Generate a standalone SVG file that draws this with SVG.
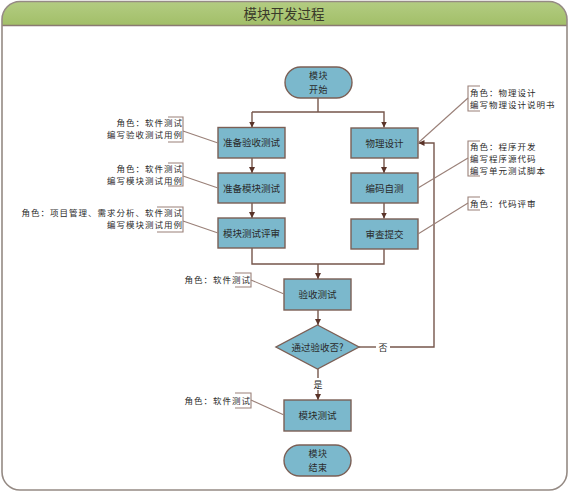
<svg xmlns="http://www.w3.org/2000/svg" width="569" height="492" viewBox="0 0 569 492">
<defs>
<linearGradient id="tg" x1="0" y1="0" x2="0" y2="1">
<stop offset="0" stop-color="#b3cc82"/>
<stop offset="1" stop-color="#a2bf68"/>
</linearGradient>
<marker id="ah" viewBox="0 0 10 10" refX="10" refY="5" markerWidth="6" markerHeight="6" orient="auto" markerUnits="userSpaceOnUse">
<path d="M0,0 L10,5 L0,10 z" fill="#5a3328"/>
</marker>
<clipPath id="fc"><rect x="2" y="1.5" width="565" height="488.5" rx="18"/></clipPath>
</defs>
<style>
text{font-family:"Noto Sans CJK SC","Liberation Sans",sans-serif;fill:#2a2a2a}
.box{fill:#7bb8cc;stroke:#7b5f55;stroke-width:1.4}
.lbl{font-size:9.5px;text-anchor:middle}
.pl{font-size:9px;text-anchor:middle;letter-spacing:0.5px}
.ann{font-size:8.5px;letter-spacing:1px}
.end{text-anchor:end}
.conn{fill:none;stroke:#76564b;stroke-width:1.4}
.arr{marker-end:url(#ah)}
.br{fill:none;stroke:#9a8078;stroke-width:1.1}
</style>
<rect x="0" y="0" width="569" height="492" fill="#ffffff"/>
<g id="frame">
<rect x="2" y="1.5" width="565" height="24" fill="url(#tg)" clip-path="url(#fc)"/>
<line x1="2" y1="25.5" x2="567" y2="25.5" stroke="#8a7a72" stroke-width="1.4"/>
<rect x="2" y="1.5" width="565" height="488.5" rx="18" fill="none" stroke="#958a84" stroke-width="1.6"/>
<text x="284" y="18.5" style="font-size:13.5px;text-anchor:middle;fill:#3a3a2a">模块开发过程</text>
</g>
<g id="connectors">
<path class="conn" d="M318,98 V112"/>
<path class="conn arr" d="M252,112 H384 V127.5"/>
<path class="conn arr" d="M252,112 V127.5"/>
<path class="conn arr" d="M252,158 V173"/>
<path class="conn arr" d="M252,203 V218"/>
<path class="conn arr" d="M384,158 V173"/>
<path class="conn arr" d="M384,203 V218.5"/>
<path class="conn" d="M252,248 V264 H384 V249"/>
<path class="conn arr" d="M318,264 V279"/>
<path class="conn arr" d="M318,310 V325"/>
<path class="conn" d="M318,369 V378"/>
<path class="conn arr" d="M318,390 V400"/>
<path class="conn" d="M359,347 H376"/>
<path class="conn arr" d="M390,347 H434 V143 H418.5"/>
<text x="383" y="351" style="font-size:9px;text-anchor:middle">否</text>
<text x="318" y="387.5" style="font-size:9px;text-anchor:middle">是</text>
</g>
<g id="start">
<rect class="box" x="285" y="67" width="67" height="31" rx="15.5"/>
<text class="pl" x="318.5" y="79.4">模块<tspan x="318.5" dy="13.5">开始</tspan></text>
</g>
<g id="n_accept_prep">
<rect class="box" x="218" y="127.5" width="67" height="30.5"/>
<text class="lbl" x="251.5" y="146">准备验收测试</text>
</g>
<g id="n_module_prep">
<rect class="box" x="218" y="173" width="67" height="30"/>
<text class="lbl" x="251.5" y="191.5">准备模块测试</text>
</g>
<g id="n_module_review">
<rect class="box" x="218" y="218" width="67" height="30"/>
<text class="lbl" x="251.5" y="236.5">模块测试评审</text>
</g>
<g id="n_phys">
<rect class="box" x="351" y="128" width="67" height="30"/>
<text class="lbl" x="384.5" y="146.5">物理设计</text>
</g>
<g id="n_code">
<rect class="box" x="351" y="173" width="67" height="30"/>
<text class="lbl" x="384.5" y="191.5">编码自测</text>
</g>
<g id="n_submit">
<rect class="box" x="351" y="219" width="67" height="30"/>
<text class="lbl" x="384.5" y="237.5">审查提交</text>
</g>
<g id="n_accept_test">
<rect class="box" x="284" y="279" width="67" height="31"/>
<text class="lbl" x="317.5" y="298">验收测试</text>
</g>
<g id="n_decision">
<polygon class="box" points="317.5,325 359,347 317.5,369 276,347"/>
<text class="lbl" x="317.5" y="350.5">通过验收否?</text>
</g>
<g id="n_module_test">
<rect class="box" x="284" y="400" width="67" height="31"/>
<text class="lbl" x="317.5" y="419">模块测试</text>
</g>
<g id="end">
<rect class="box" x="284" y="445" width="67" height="31" rx="15.5"/>
<text class="pl" x="318" y="457.4">模块<tspan x="318" dy="13.5">结束</tspan></text>
</g>
<g id="a1">
<path class="br" d="M168,117 H183 V142 H168"/>
<line class="br" x1="183" y1="131" x2="218" y2="143"/>
<text class="ann end" x="183" y="125.5">角色：软件测试<tspan x="183" dy="12.4">编写验收测试用例</tspan></text>
</g>
<g id="a2">
<path class="br" d="M168,163 H183 V186 H168"/>
<line class="br" x1="183" y1="176" x2="218" y2="188"/>
<text class="ann end" x="183" y="171.5">角色：软件测试<tspan x="183" dy="12.4">编写模块测试用例</tspan></text>
</g>
<g id="a3">
<path class="br" d="M157,207 H183 V232 H157"/>
<line class="br" x1="183" y1="221" x2="218" y2="233"/>
<text class="ann end" x="183" y="216">角色：项目管理、需求分析、软件测试<tspan x="183" dy="12.4">编写模块测试用例</tspan></text>
</g>
<g id="a4">
<path class="br" d="M480,86 H468 V111 H480"/>
<line class="br" x1="468" y1="98" x2="418" y2="143"/>
<text class="ann" x="470" y="95.5">角色：物理设计<tspan x="470" dy="12.4">编写物理设计说明书</tspan></text>
</g>
<g id="a5">
<path class="br" d="M480,141 H468 V176 H480"/>
<line class="br" x1="468" y1="158" x2="418" y2="188"/>
<text class="ann" x="470" y="149.5">角色：程序开发<tspan x="470" dy="12.4">编写程序源代码</tspan><tspan x="470" dy="12.4">编写单元测试脚本</tspan></text>
</g>
<g id="a6">
<path class="br" d="M480,197 H468 V210 H480"/>
<line class="br" x1="468" y1="203" x2="418" y2="234"/>
<text class="ann" x="470" y="206.5">角色：代码评审</text>
</g>
<g id="a7">
<path class="br" d="M235,273 H251 V287 H235"/>
<line class="br" x1="251" y1="280" x2="284" y2="294"/>
<text class="ann end" x="251" y="282.5">角色：软件测试</text>
</g>
<g id="a8">
<path class="br" d="M235,393 H251 V408 H235"/>
<line class="br" x1="251" y1="400" x2="284" y2="415"/>
<text class="ann end" x="251" y="404">角色：软件测试</text>
</g>
</svg>
